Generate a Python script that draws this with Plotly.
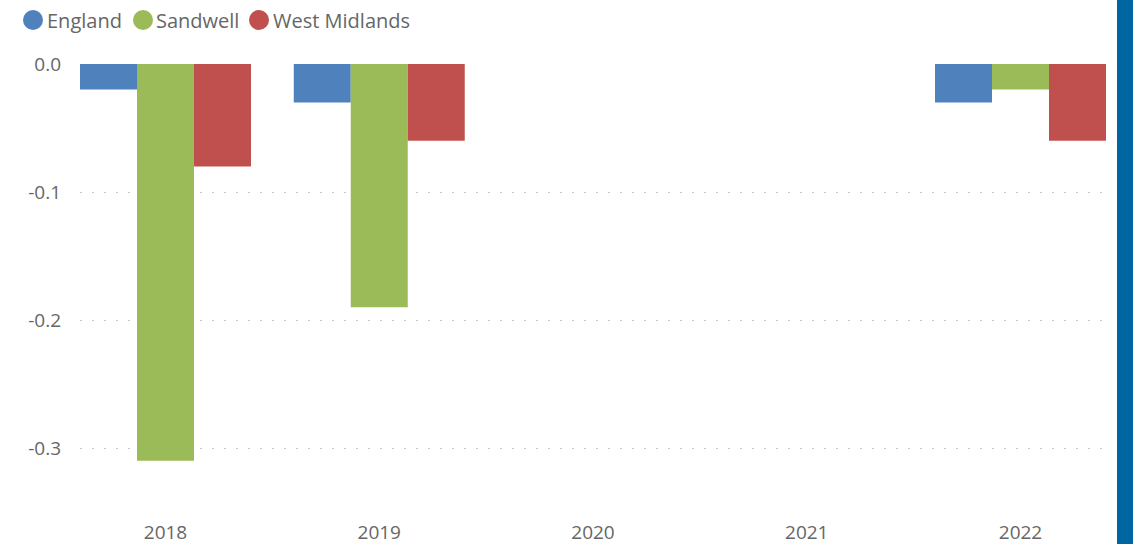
import plotly.graph_objects as go

years = ["2018", "2019", "2020", "2021", "2022"]
england = [-0.02, -0.03, None, None, -0.03]
sandwell = [-0.31, -0.19, None, None, -0.02]
west_midlands = [-0.08, -0.06, None, None, -0.06]
series_names = ["England", "Sandwell", "West Midlands"]
colors = ["#4F81BD", "#9BBB59", "#C0504D"]
y_tick_vals = [0.0, -0.1, -0.2, -0.3]
y_tick_text = ["0.0", "-0.1", "-0.2", "-0.3"]

font_family = "Segoe UI, Open Sans, sans-serif"
fig = go.Figure()
for name, vals, c in zip(series_names, [england, sandwell, west_midlands], colors):
    fig.add_trace(go.Bar(x=years, y=vals, name=name, marker_color=c,
                         marker_line_width=0, showlegend=False))

W, H = 1133, 544
L, R, T, B = 80, 27, 64, 29
pw = W - L - R
ph = H - T - B


def px_x(p):
    return (p - L) / pw


def px_y(p):
    return (H - B - p) / ph


# manual legend (circle markers + text), laid out in pixels
legend_circle_x = [33, 143, 259]
legend_text_x = [45, 154, 271]
legend_y = 20
shapes = []
annotations = []
for name, c, cx, tx in zip(series_names, colors, legend_circle_x, legend_text_x):
    shapes.append(dict(type="circle", xref="paper", yref="paper",
                       xsizemode="pixel", ysizemode="pixel",
                       xanchor=px_x(cx), yanchor=px_y(legend_y),
                       x0=-10, x1=10, y0=-10, y1=10,
                       fillcolor=c, line=dict(width=0)))
    annotations.append(dict(text=name, xref="paper", yref="paper",
                            x=px_x(tx), y=px_y(legend_y + 1), xanchor="left",
                            yanchor="middle", showarrow=False,
                            font=dict(size=20, color="#666666")))

shapes.append(dict(type="rect", xref="paper", yref="paper",
                   x0=px_x(1117), x1=px_x(1140), y0=px_y(560), y1=px_y(-20),
                   fillcolor="#0066A1", line=dict(width=0), layer="above"))

fig.update_layout(
    width=W, height=H,
    margin=dict(l=L, r=R, t=T, b=B, autoexpand=False),
    paper_bgcolor="white", plot_bgcolor="white",
    barmode="group", bargap=0.2, bargroupgap=0,
    showlegend=False,
    font=dict(family=font_family, color="#666666", size=19),
    xaxis=dict(type="category", range=[-0.4, 4.4], showgrid=False, zeroline=False,
               showline=False, ticks="", tickfont=dict(size=19, color="#666666"),
               ticklabelstandoff=4, automargin=False),
    yaxis=dict(range=[-0.3523, 0.0], tickvals=y_tick_vals, ticktext=y_tick_text,
               showgrid=True, gridcolor="#C8C8C8", griddash="2px,10px", gridwidth=1,
               zeroline=False, showline=False, ticks="", automargin=False,
               tickfont=dict(size=19, color="#666666"), ticklabelstandoff=18),
    shapes=shapes,
    annotations=annotations,
)
fig.write_html("out.html", config={"displayModeBar": False},
               post_script="document.body.style.margin='0';document.body.style.overflow='hidden';")
